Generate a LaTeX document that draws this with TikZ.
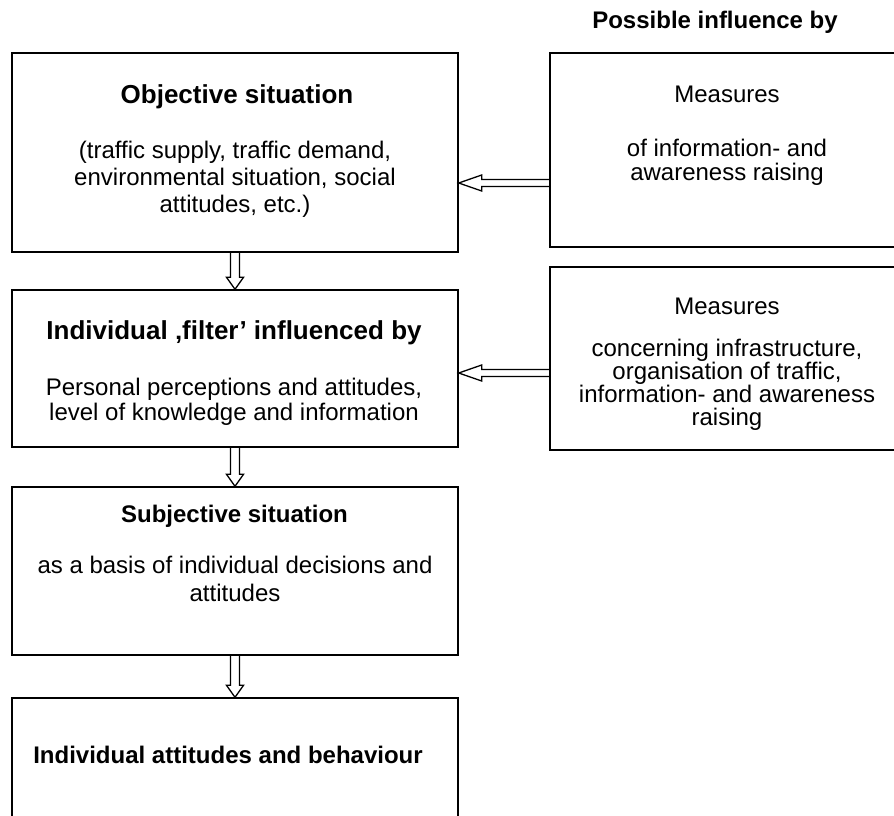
\documentclass[tikz,border=0pt]{standalone}
\usepackage{fontspec}
\setmainfont{Liberation Sans}
\usetikzlibrary{calc}

\begin{document}
\begin{tikzpicture}[x=1pt, y=-1pt,
    box/.style={draw, line width=1.4pt, inner sep=0, minimum width=446pt},
    side/.style={draw, line width=1.4pt, inner sep=0, minimum width=354pt},
    ttl/.style={inner sep=0, anchor=base, font=\bfseries\fontsize{26}{30}\selectfont},
    sttl/.style={inner sep=0, anchor=base, font=\bfseries\fontsize{24}{28}\selectfont},
    txt/.style={inner sep=0, anchor=north, align=center, font=\fontsize{24}{27}\selectfont},
    hollowdown/.style={line width=1.3pt, to path={($(\tikztostart)+(-4.5,0)$) -- ($(\tikztotarget)+(-4.5,-12)$) -- ++(-4,0) -- (\tikztotarget) -- ++(8.5,-12) -- ++(-4,0) -- ($(\tikztostart)+(4.5,0)$)}},
    hollowleft/.style={line width=1.3pt, to path={($(\tikztostart)+(0,-3.5)$) -- ($(\tikztotarget)+(23,-3.5)$) -- ++(0,-4.5) -- (\tikztotarget) -- ++(23,8) -- ++(0,-4.5) -- ($(\tikztostart)+(0,3.5)$)}}]
    \useasboundingbox (0,0) rectangle (894,816);
    \clip (0,0) rectangle (894,816);

    \node[sttl] (0) at (715,29) {Possible influence by};

    % left column
    \node[box, minimum height=199pt] (1) at (235,152.5) {};
    \node[ttl] (2) at (237,103) {Objective situation};
    \node[txt] (3) at (235,140.5) {(traffic supply, traffic demand,\\environmental situation, social\\attitudes, etc.)};

    \node[box, minimum height=157pt] (4) at (235,368.5) {};
    \node[ttl] (5) at (234,339) {Individual ‚filter’ influenced by};
    \node[txt, font=\fontsize{24}{25}\selectfont] (6) at (234,377.5) {Personal perceptions and attitudes,\\level of knowledge and information};

    \node[box, minimum height=168pt] (7) at (235,571) {};
    \node[sttl] (8) at (234.5,522) {Subjective situation};
    \node[txt, font=\fontsize{24}{28}\selectfont] (9) at (235,555.5) {as a basis of individual decisions and\\attitudes};

    \node[box, minimum height=142pt] (10) at (235,769) {};
    \node[sttl] (11) at (228,763) {Individual attitudes and behaviour};

    % right column
    \node[side, minimum height=194pt] (12) at (727,150) {};
    \node[txt, anchor=base] (13) at (727,102) {Measures};
    \node[txt, font=\fontsize{24}{24.5}\selectfont] (14) at (727,138.5) {of information- and\\awareness raising};

    \node[side, minimum height=183pt] (15) at (727,358.5) {};
    \node[txt, anchor=base] (16) at (727,314) {Measures};
    \node[txt, font=\fontsize{24}{22.2}\selectfont] (17) at (727,338.5) {concerning infrastructure,\\organisation of traffic,\\information- and awareness\\raising};

    \draw[hollowdown] (1.south) to (4.north);
    \draw[hollowdown] (4.south) to (7.north);
    \draw[hollowdown] (7.south) to (10.north);
    \draw[hollowleft] (12.west |- 0,183) to (1.east |- 0,183);
    \draw[hollowleft] (15.west |- 0,373) to (4.east |- 0,373);
\end{tikzpicture}
\end{document}
